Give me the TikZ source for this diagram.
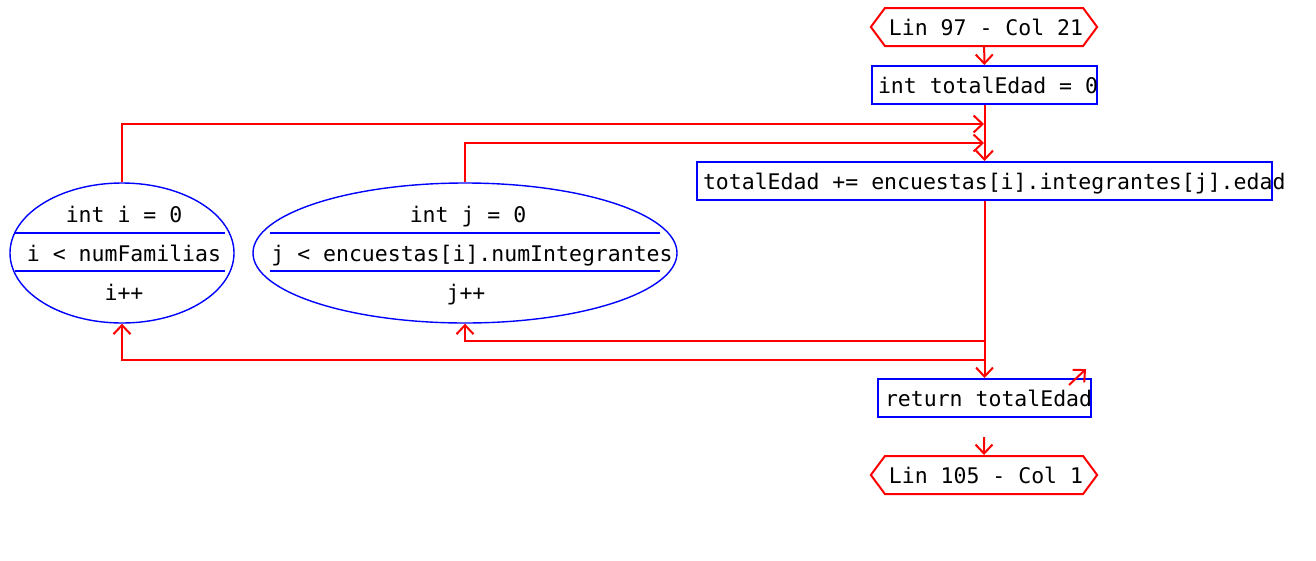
\documentclass[tikz,border=0pt]{standalone}
\usepackage{fontspec}
\newfontfamily\codefont{DejaVu Sans Mono}
\usetikzlibrary{arrows.meta, shapes.geometric, shapes.symbols}

\tikzset{
    code/.style={font=\codefont\fontsize{21.5pt}{26pt}\selectfont, text height=17pt, text depth=1pt},
    flow/.style={draw=red, line width=2pt, -{Straight Barb[length=9pt,width=17pt]}},
    stmt/.style={code, draw=blue, line width=2pt, inner sep=0pt, minimum height=38pt, anchor=west},
    endpoint/.style={code, shape=signal, signal to=west and east, signal pointer angle=107,
        draw=red, line width=2pt, inner sep=0pt, minimum width=224pt, minimum height=38pt},
    loopell/.style={ellipse, draw=blue, line width=1.4pt, inner sep=0pt, minimum height=140pt},
    sep/.style={draw=blue, line width=2pt}
}

\begin{document}
\begin{tikzpicture}[x=1pt, y=-1pt]
    \useasboundingbox (0,0) rectangle (1316,560);

    % start and end markers
    \node[endpoint] (start) at (984,27) {\hspace{4pt}Lin 97 - Col 21};
    \node[endpoint] (stop) at (984,475) {\hspace{4pt}Lin 105 - Col 1};

    % statements
    \node[stmt] (init) at (871,85) {\makebox[225pt][l]{\hspace{6pt}int totalEdad = 0}};
    \node[stmt] (body) at (696,181) {\makebox[575pt][l]{\hspace{6pt}totalEdad += encuestas[i].integrantes[j].edad}};
    \node[stmt] (ret) at (877,398) {\makebox[213pt][l]{\hspace{7pt}return totalEdad}};

    % outer for loop
    \node[loopell, minimum width=224pt] (fori) at (122,253) {};
    \node[code] (fori-a) at (124,214) {int i = 0};
    \node[code] (fori-b) at (124,253) {i < numFamilias};
    \node[code] (fori-c) at (124,292) {i++};
    \draw[sep] (15,233) -- (225,233);
    \draw[sep] (15,271) -- (225,271);

    % inner for loop
    \node[loopell, minimum width=424pt] (forj) at (465,253) {};
    \node[code] (forj-a) at (468,214) {int j = 0};
    \node[code] (forj-b) at (472,253) {j < encuestas[i].numIntegrantes};
    \node[code] (forj-c) at (466,292) {j++};
    \draw[sep] (270,233) -- (660,233);
    \draw[sep] (270,271) -- (660,271);

    % junction points
    \coordinate (in-i) at (984,124);
    \coordinate (in-j) at (984,143);
    \coordinate (back-j) at (984,341);
    \coordinate (back-i) at (984,360);
    \coordinate (ret-out) at (984,437);
    \coordinate (stray-a) at (1069,385);
    \coordinate (stray-b) at (1086,369);

    % connectors
    \draw[flow] (start) -- (init);
    \draw[flow] (init) -- (body);
    \draw[flow] (fori.north) |- (in-i);
    \draw[flow] (forj.north) |- (in-j);
    \draw[flow] (body) -- (ret);
    \draw[flow] (back-j) -| (forj.south);
    \draw[flow] (back-i) -| (fori.south);
    \draw[flow] (stray-a) -- (stray-b);
    \draw[flow] (ret-out) -- (stop);
\end{tikzpicture}
\end{document}
